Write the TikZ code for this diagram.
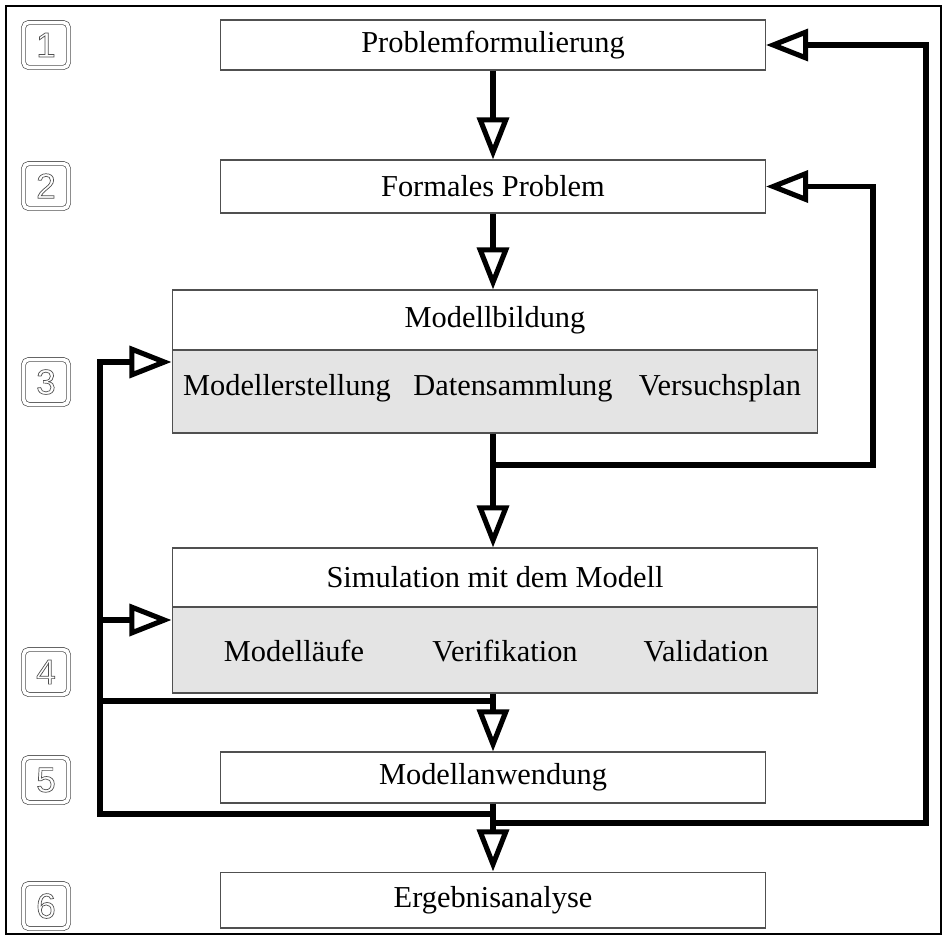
\documentclass[tikz,border=0pt]{standalone}
\usepackage{fontspec}
\setmainfont{Liberation Serif}
\newfontfamily\keyfont{Liberation Sans}
\usepackage{xcolor}
\definecolor{Col1}{RGB}{228,228,228}
\definecolor{Col2}{RGB}{80,80,80}
\usetikzlibrary{arrows.meta}
\newcommand{\Hohl}[1]{\special{pdf:literal direct 1 Tr 0.4 w}#1\special{pdf:literal direct 0 Tr}}
\tikzstyle{Box}=[draw=Col2,line width=0.6pt,inner sep=0pt,
font=\fontsize{17.3}{20}\selectfont]
\tikzstyle{SmallBox}=[Box,minimum width=10.9cm]
\tikzstyle{BigBox}=[Box,minimum width=12.92cm]
\tikzstyle{GrayBox}=[BigBox,fill=Col1]
\tikzstyle{Label}=[inner sep=0pt,font=\fontsize{17.3}{20}\selectfont]
\tikzstyle{Edge}=[line width=2.9pt,line join=miter]
\tikzstyle{Flow}=[Edge,-{Triangle[open,length=24pt,width=18pt]}]
\tikzstyle{Key}=[draw=Col2,double,double distance=2pt,rounded corners=3pt,
minimum size=0.9cm,inner sep=0pt,text=Col2,font=\keyfont\fontsize{20}{20}\selectfont]

\begin{document}
\begin{tikzpicture}[x=0.02cm,y=-0.02cm]
        \useasboundingbox(0,0)rectangle(945,937);
        \draw[line width=1.2pt](6,6)rectangle(941,934);
        % Schritte
        \node[Key](k1)at(46,45){\Hohl{1}};
        \node[Key](k2)at(46,186){\Hohl{2}};
        \node[Key](k3)at(46,382){\Hohl{3}};
        \node[Key](k4)at(46,672){\Hohl{4}};
        \node[Key](k5)at(46,780){\Hohl{5}};
        \node[Key](k6)at(46,906){\Hohl{6}};
        % Kaesten
        \node[SmallBox,minimum height=1cm](prob)at(493,45){Problemformulierung};
        \node[SmallBox,minimum height=1.06cm](form)at(493,186.5){Formales Problem};
        \node[BigBox,minimum height=1.2cm](modH)at(495,320){Modellbildung};
        \node[GrayBox,minimum height=1.66cm](modB)at(495,391.5){};
        \node[Label](mod1)at(287,388){Modellerstellung};
        \node[Label](mod2)at(513,388){Datensammlung};
        \node[Label](mod3)at(720,388){Versuchsplan};
        \node[BigBox,minimum height=1.18cm](simH)at(495,577.5){Simulation mit dem Modell};
        \node[GrayBox,minimum height=1.72cm](simB)at(495,650){};
        \node[Label](sim1)at(294,651){Modelläufe};
        \node[Label](sim2)at(505,651){Verifikation};
        \node[Label](sim3)at(706,651){Validation};
        \node[SmallBox,minimum height=1.02cm](anw)at(493,777.5){Modellanwendung};
        \node[SmallBox,minimum height=1.12cm](erg)at(493,900){Ergebnisanalyse};
        % Verzweigungen
        \coordinate(j1)at(493,465);
        \coordinate(r1)at(873,465);
        \coordinate(j2)at(493,701);
        \coordinate(l1)at(100,701);
        \coordinate(j3)at(493,814);
        \coordinate(j4)at(493,823);
        \coordinate(r2)at(926,823);
        \coordinate(lA)at(100,362);
        \coordinate(lB)at(100,620);
        % Pfeile
        \draw[Flow](prob.south)--(form.north);
        \draw[Flow](form.south)--(form.south|-modH.north);
        \draw[Flow](form.south|-modB.south)--(form.south|-simH.north);
        \draw[Flow](form.south|-simB.south)--(anw.north);
        \draw[Flow](anw.south)--(erg.north);
        \draw[Flow](j1)-|(r1|-form.east)--(form.east);
        \draw[Flow](j2)-|(lA)--(lA-|modB.west);
        \draw[Edge](j3)-|(l1);
        \draw[Flow](lB)--(lB-|simB.west);
        \draw[Flow](j4)-|(r2|-prob.east)--(prob.east);
    \end{tikzpicture}
\end{document}
